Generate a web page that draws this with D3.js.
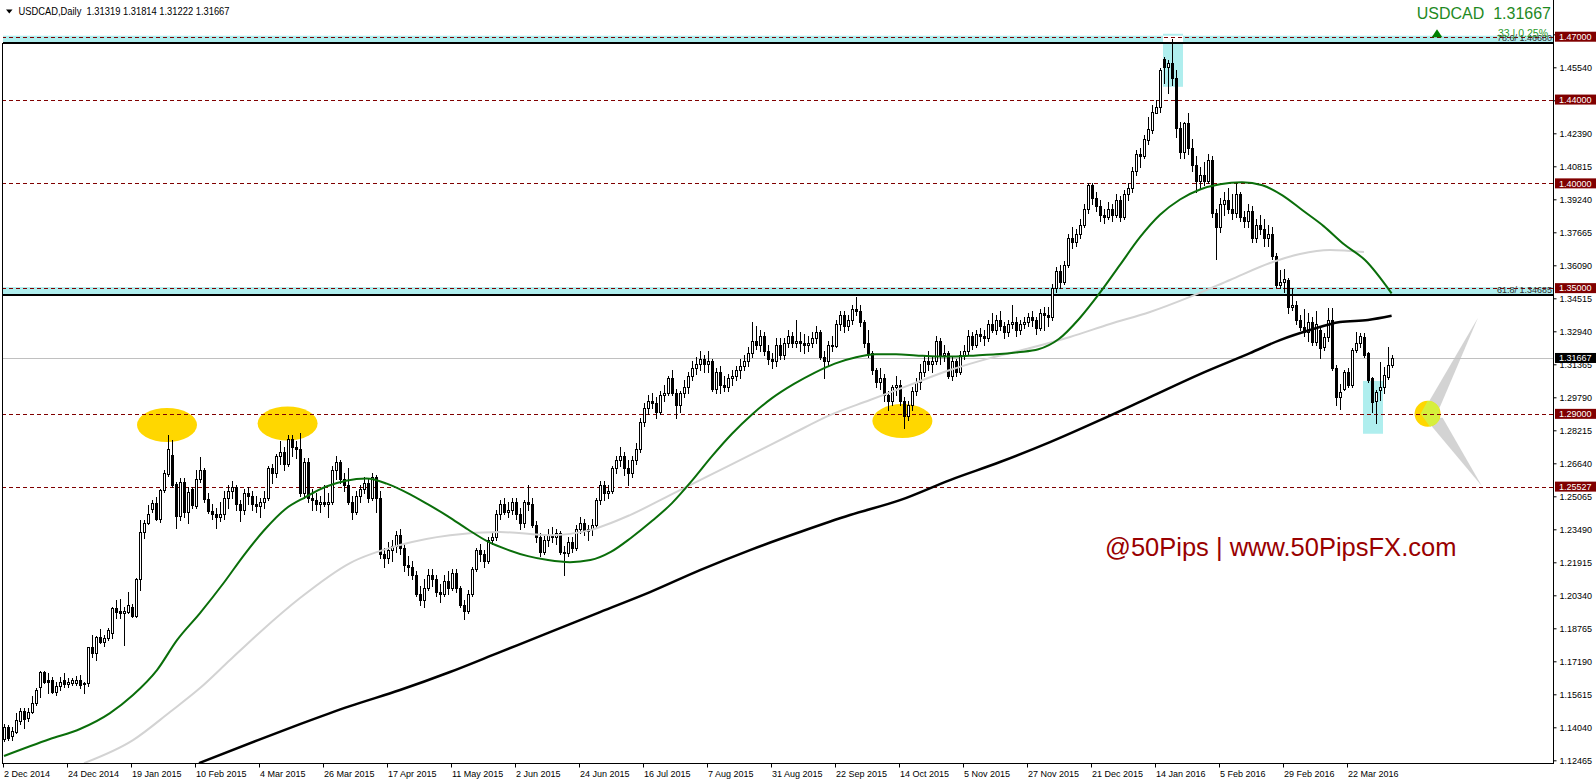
<!DOCTYPE html>
<html><head><meta charset="utf-8">
<script src="https://cdn.jsdelivr.net/npm/d3@7"></script>
<style>body{margin:0;background:#fff;}svg{display:block;}text{white-space:pre;}</style>
</head><body>
<svg id="c" width="1596" height="784"></svg>
<script>
// ---------------- DATA (daily USDCAD bars, 2 Dec 2014 .. 6 Apr 2016) ----------------
const opens = [
1.1350,1.1406,1.1364,1.1383,1.1435,1.1482,1.1446,1.1478,1.1518,1.1594,
1.1669,1.1629,1.1629,1.1574,1.1601,1.1629,1.1610,1.1617,1.1614,1.1632,
1.1617,1.1614,1.1785,1.1760,1.1833,1.1812,1.1828,1.1855,1.1972,1.1959,
1.1948,1.1956,1.1979,1.1935,1.2110,1.2337,1.2377,1.2444,1.2476,1.2396,
1.2536,1.2613,1.2704,1.2565,1.2412,1.2573,1.2433,1.2539,1.2460,1.2587,
1.2632,1.2495,1.2435,1.2420,1.2410,1.2420,1.2500,1.2530,1.2550,1.2470,
1.2440,1.2520,1.2510,1.2470,1.2460,1.2480,1.2500,1.2640,1.2620,1.2700,
1.2720,1.2660,1.2780,1.2740,1.2730,1.2520,1.2670,1.2500,1.2490,1.2470,
1.2480,1.2470,1.2480,1.2630,1.2670,1.2590,1.2560,1.2480,1.2430,1.2510,
1.2540,1.2570,1.2500,1.2600,1.2500,1.2230,1.2210,1.2250,1.2270,1.2320,
1.2260,1.2180,1.2170,1.2130,1.2040,1.2010,1.2070,1.2130,1.2110,1.2050,
1.2040,1.2100,1.2070,1.2140,1.2070,1.1990,1.1960,1.2040,1.2160,1.2250,
1.2230,1.2200,1.2300,1.2310,1.2420,1.2470,1.2430,1.2440,1.2480,1.2420,
1.2380,1.2480,1.2470,1.2370,1.2310,1.2240,1.2300,1.2320,1.2310,1.2330,
1.2240,1.2235,1.2290,1.2260,1.2350,1.2380,1.2340,1.2350,1.2370,1.2490,
1.2560,1.2520,1.2530,1.2640,1.2680,1.2700,1.2640,1.2620,1.2680,1.2730,
1.2860,1.2930,1.2960,1.2950,1.2910,1.2990,1.3000,1.3070,1.3000,1.2940,
1.3000,1.3030,1.3080,1.3120,1.3140,1.3160,1.3140,1.3150,1.3020,1.3100,
1.3040,1.3030,1.3070,1.3080,1.3110,1.3130,1.3150,1.3190,1.3250,1.3230,
1.3270,1.3200,1.3160,1.3150,1.3230,1.3180,1.3240,1.3270,1.3240,1.3250,
1.3240,1.3230,1.3240,1.3260,1.3290,1.3170,1.3150,1.3230,1.3225,1.3330,
1.3370,1.3320,1.3350,1.3400,1.3390,1.3340,1.3240,1.3190,1.3110,1.3050,
1.3070,1.2990,1.2960,1.3030,1.3040,1.2960,1.2890,1.2940,1.3010,1.3050,
1.3100,1.3150,1.3140,1.3150,1.3250,1.3180,1.3190,1.3080,1.3150,1.3100,
1.3180,1.3200,1.3270,1.3230,1.3280,1.3270,1.3260,1.3330,1.3300,1.3350,
1.3320,1.3290,1.3330,1.3340,1.3300,1.3330,1.3340,1.3360,1.3350,1.3310,
1.3380,1.3370,1.3360,1.3500,1.3580,1.3530,1.3610,1.3740,1.3720,1.3760,
1.3800,1.3880,1.3990,1.3930,1.3890,1.3850,1.3840,1.3880,1.3850,1.3920,
1.3840,1.3950,1.3980,1.4060,1.4140,1.4130,1.4207,1.4255,1.4338,1.4363,
1.4592,1.4554,1.4573,1.4501,1.4263,1.4150,1.4287,1.4170,1.4090,1.4010,
1.4040,1.4010,1.4110,1.3860,1.3790,1.3900,1.3920,1.3880,1.3860,1.3950,
1.3840,1.3820,1.3870,1.3740,1.3800,1.3780,1.3740,1.3760,1.3655,1.3515,
1.3530,1.3539,1.3411,1.3420,1.3350,1.3313,1.3290,1.3340,1.3244,1.3300,
1.3221,1.3268,1.3348,1.3117,1.2982,1.3017,1.3101,1.3038,1.3205,1.3240,
1.3268,1.3189,1.3070,1.2963,1.3014,1.3030,1.3078,1.31319];
const highs = [
1.1422,1.1414,1.1406,1.1470,1.1494,1.1494,1.1494,1.1553,1.1590,1.1674,
1.1674,1.1661,1.1645,1.1622,1.1645,1.1661,1.1637,1.1637,1.1648,1.1653,
1.1621,1.1788,1.1844,1.1839,1.1871,1.1844,1.1876,1.1976,1.2011,1.2014,
1.1979,1.2051,1.1992,1.2115,1.2393,1.2393,1.2465,1.2489,1.2505,1.2539,
1.2632,1.2799,1.2775,1.2576,1.2592,1.2592,1.2552,1.2552,1.2632,1.2695,
1.2640,1.2520,1.2470,1.2450,1.2480,1.2530,1.2560,1.2580,1.2560,1.2490,
1.2540,1.2550,1.2530,1.2510,1.2500,1.2530,1.2650,1.2660,1.2710,1.2770,
1.2740,1.2800,1.2800,1.2770,1.2810,1.2690,1.2690,1.2540,1.2520,1.2510,
1.2560,1.2520,1.2650,1.2700,1.2680,1.2620,1.2640,1.2510,1.2530,1.2560,
1.2600,1.2590,1.2620,1.2610,1.2530,1.2260,1.2290,1.2300,1.2340,1.2350,
1.2280,1.2220,1.2200,1.2150,1.2080,1.2110,1.2160,1.2160,1.2130,1.2090,
1.2130,1.2150,1.2160,1.2160,1.2080,1.2010,1.2060,1.2170,1.2260,1.2280,
1.2250,1.2310,1.2330,1.2440,1.2490,1.2500,1.2480,1.2500,1.2500,1.2450,
1.2490,1.2560,1.2500,1.2390,1.2330,1.2320,1.2350,1.2360,1.2350,1.2340,
1.2270,1.2310,1.2310,1.2370,1.2410,1.2400,1.2370,1.2400,1.2500,1.2580,
1.2580,1.2560,1.2650,1.2700,1.2740,1.2720,1.2680,1.2700,1.2760,1.2880,
1.2950,1.2990,1.3000,1.2980,1.3010,1.3040,1.3080,1.3110,1.3020,1.3010,
1.3060,1.3100,1.3150,1.3170,1.3200,1.3180,1.3200,1.3160,1.3120,1.3130,
1.3080,1.3090,1.3110,1.3130,1.3160,1.3180,1.3220,1.3340,1.3320,1.3300,
1.3290,1.3230,1.3190,1.3260,1.3260,1.3260,1.3300,1.3290,1.3350,1.3290,
1.3280,1.3270,1.3290,1.3320,1.3300,1.3200,1.3250,1.3270,1.3350,1.3390,
1.3390,1.3370,1.3420,1.3457,1.3420,1.3350,1.3300,1.3200,1.3120,1.3120,
1.3090,1.3010,1.3040,1.3080,1.3060,1.2980,1.2960,1.3030,1.3070,1.3140,
1.3180,1.3200,1.3170,1.3270,1.3260,1.3230,1.3200,1.3170,1.3160,1.3200,
1.3230,1.3300,1.3290,1.3300,1.3310,1.3300,1.3350,1.3380,1.3370,1.3390,
1.3340,1.3350,1.3420,1.3360,1.3350,1.3360,1.3380,1.3390,1.3360,1.3400,
1.3410,1.3410,1.3520,1.3600,1.3610,1.3630,1.3760,1.3790,1.3780,1.3830,
1.3900,1.4000,1.4000,1.3960,1.3920,1.3880,1.3910,1.3900,1.3950,1.3940,
1.3970,1.4000,1.4080,1.4160,1.4170,1.4230,1.4318,1.4374,1.4398,1.4549,
1.4605,1.4589,1.4689,1.4541,1.4295,1.4295,1.4334,1.4210,1.4130,1.4080,
1.4100,1.4140,1.4130,1.3880,1.3930,1.3960,1.3980,1.3950,1.4000,1.3960,
1.3870,1.3900,1.3890,1.3830,1.3850,1.3830,1.3800,1.3790,1.3670,1.3587,
1.3590,1.3547,1.3499,1.3440,1.3370,1.3400,1.3380,1.3360,1.3390,1.3320,
1.3284,1.3403,1.3403,1.3133,1.3042,1.3109,1.3117,1.3213,1.3292,1.3284,
1.3284,1.3197,1.3078,1.3014,1.3149,1.3125,1.3221,1.31814];
const lows = [
1.1340,1.1343,1.1343,1.1375,1.1422,1.1399,1.1435,1.1470,1.1510,1.1550,
1.1614,1.1566,1.1566,1.1558,1.1582,1.1598,1.1598,1.1606,1.1606,1.1590,
1.1566,1.1601,1.1741,1.1725,1.1804,1.1792,1.1823,1.1828,1.1924,1.1924,
1.1796,1.1948,1.1929,1.1932,1.2059,1.2306,1.2374,1.2433,1.2393,1.2385,
1.2528,1.2603,1.2552,1.2353,1.2393,1.2409,1.2377,1.2449,1.2449,1.2575,
1.2480,1.2425,1.2400,1.2355,1.2390,1.2400,1.2450,1.2500,1.2440,1.2390,
1.2420,1.2470,1.2440,1.2430,1.2410,1.2450,1.2490,1.2570,1.2600,1.2660,
1.2630,1.2650,1.2700,1.2690,1.2510,1.2500,1.2480,1.2440,1.2440,1.2430,
1.2460,1.2410,1.2470,1.2590,1.2570,1.2530,1.2470,1.2400,1.2420,1.2480,
1.2520,1.2480,1.2490,1.2430,1.2210,1.2170,1.2190,1.2200,1.2240,1.2230,
1.2150,1.2130,1.2110,1.2030,1.1990,1.1980,1.2060,1.2080,1.2030,1.2000,
1.2030,1.2040,1.2060,1.2050,1.1980,1.1920,1.1950,1.2030,1.2150,1.2200,
1.2170,1.2190,1.2280,1.2300,1.2400,1.2420,1.2410,1.2420,1.2400,1.2350,
1.2360,1.2440,1.2360,1.2290,1.2220,1.2230,1.2270,1.2290,1.2280,1.2230,
1.2130,1.2220,1.2240,1.2250,1.2330,1.2320,1.2300,1.2320,1.2360,1.2470,
1.2490,1.2500,1.2520,1.2620,1.2650,1.2610,1.2560,1.2600,1.2660,1.2720,
1.2840,1.2900,1.2930,1.2880,1.2900,1.2960,1.2990,1.2990,1.2880,1.2910,
1.2980,1.3000,1.3060,1.3090,1.3110,1.3100,1.3100,1.3010,1.3000,1.3000,
1.3010,1.3010,1.3040,1.3060,1.3070,1.3110,1.3130,1.3170,1.3210,1.3200,
1.3180,1.3140,1.3120,1.3130,1.3160,1.3160,1.3220,1.3220,1.3220,1.3200,
1.3190,1.3200,1.3220,1.3240,1.3160,1.3070,1.3130,1.3200,1.3220,1.3300,
1.3290,1.3300,1.3330,1.3370,1.3320,1.3220,1.3170,1.3090,1.3030,1.3020,
1.2960,1.2920,1.2940,1.2990,1.2940,1.2832,1.2870,1.2920,1.2990,1.3020,
1.3080,1.3110,1.3100,1.3140,1.3140,1.3150,1.3070,1.3060,1.3080,1.3090,
1.3160,1.3180,1.3210,1.3220,1.3250,1.3230,1.3250,1.3290,1.3280,1.3300,
1.3260,1.3270,1.3310,1.3270,1.3280,1.3310,1.3320,1.3320,1.3280,1.3300,
1.3300,1.3320,1.3350,1.3480,1.3500,1.3520,1.3600,1.3690,1.3700,1.3740,
1.3790,1.3860,1.3900,1.3870,1.3820,1.3810,1.3830,1.3820,1.3840,1.3820,
1.3830,1.3920,1.3960,1.4040,1.4080,1.4120,1.4190,1.4240,1.4334,1.4342,
1.4478,1.4430,1.4470,1.4223,1.4120,1.4120,1.4140,1.4060,1.3960,1.3980,
1.3990,1.4000,1.3840,1.3640,1.3770,1.3850,1.3860,1.3830,1.3840,1.3820,
1.3790,1.3790,1.3720,1.3720,1.3760,1.3700,1.3700,1.3640,1.3505,1.3500,
1.3483,1.3380,1.3395,1.3330,1.3300,1.3270,1.3250,1.3230,1.3230,1.3165,
1.3205,1.3250,1.3110,1.2942,1.2921,1.3014,1.3030,1.3030,1.3197,1.3221,
1.3173,1.3054,1.2910,1.2855,1.2966,1.3001,1.3065,1.31222];
const closes = [
1.1406,1.1351,1.1388,1.1439,1.1482,1.1442,1.1478,1.1521,1.1582,1.1669,
1.1622,1.1621,1.1574,1.1601,1.1621,1.1610,1.1621,1.1629,1.1632,1.1606,
1.1609,1.1785,1.1760,1.1836,1.1812,1.1828,1.1868,1.1972,1.1956,1.1948,
1.1959,1.1987,1.1935,1.2112,1.2337,1.2377,1.2420,1.2473,1.2396,1.2536,
1.2616,1.2732,1.2560,1.2412,1.2576,1.2433,1.2528,1.2465,1.2587,1.2632,
1.2495,1.2435,1.2420,1.2410,1.2420,1.2500,1.2530,1.2550,1.2470,1.2440,
1.2520,1.2510,1.2470,1.2460,1.2480,1.2500,1.2640,1.2620,1.2700,1.2720,
1.2660,1.2780,1.2740,1.2730,1.2520,1.2670,1.2500,1.2490,1.2470,1.2480,
1.2470,1.2480,1.2630,1.2670,1.2590,1.2560,1.2480,1.2430,1.2510,1.2540,
1.2570,1.2500,1.2600,1.2500,1.2230,1.2210,1.2250,1.2270,1.2320,1.2260,
1.2180,1.2170,1.2130,1.2040,1.2010,1.2070,1.2130,1.2110,1.2050,1.2040,
1.2100,1.2070,1.2140,1.2070,1.1990,1.1960,1.2040,1.2160,1.2250,1.2230,
1.2200,1.2300,1.2310,1.2420,1.2470,1.2430,1.2440,1.2480,1.2420,1.2380,
1.2480,1.2470,1.2370,1.2310,1.2240,1.2300,1.2320,1.2310,1.2330,1.2240,
1.2235,1.2290,1.2260,1.2350,1.2380,1.2340,1.2350,1.2370,1.2490,1.2560,
1.2520,1.2530,1.2640,1.2680,1.2700,1.2640,1.2620,1.2680,1.2730,1.2860,
1.2930,1.2960,1.2950,1.2910,1.2990,1.3000,1.3070,1.3000,1.2940,1.3000,
1.3030,1.3080,1.3120,1.3140,1.3160,1.3140,1.3150,1.3020,1.3100,1.3040,
1.3030,1.3070,1.3080,1.3110,1.3130,1.3150,1.3190,1.3250,1.3230,1.3270,
1.3200,1.3160,1.3150,1.3230,1.3180,1.3240,1.3270,1.3240,1.3250,1.3240,
1.3230,1.3240,1.3260,1.3290,1.3170,1.3150,1.3230,1.3225,1.3330,1.3370,
1.3320,1.3350,1.3400,1.3390,1.3340,1.3240,1.3190,1.3110,1.3050,1.3070,
1.2990,1.2960,1.3030,1.3040,1.2960,1.2890,1.2940,1.3010,1.3050,1.3100,
1.3150,1.3140,1.3150,1.3250,1.3180,1.3190,1.3080,1.3150,1.3100,1.3180,
1.3200,1.3270,1.3230,1.3280,1.3270,1.3260,1.3330,1.3300,1.3350,1.3320,
1.3290,1.3330,1.3340,1.3300,1.3330,1.3340,1.3360,1.3350,1.3310,1.3380,
1.3370,1.3360,1.3500,1.3580,1.3530,1.3610,1.3740,1.3720,1.3760,1.3800,
1.3880,1.3990,1.3930,1.3890,1.3850,1.3840,1.3880,1.3850,1.3920,1.3840,
1.3950,1.3980,1.4060,1.4140,1.4130,1.4210,1.4258,1.4342,1.4363,1.4541,
1.4554,1.4573,1.4501,1.4263,1.4150,1.4287,1.4170,1.4090,1.4010,1.4040,
1.4010,1.4110,1.3860,1.3790,1.3900,1.3920,1.3880,1.3860,1.3950,1.3840,
1.3820,1.3870,1.3740,1.3800,1.3780,1.3740,1.3760,1.3655,1.3515,1.3530,
1.3542,1.3411,1.3420,1.3350,1.3313,1.3290,1.3340,1.3244,1.3330,1.3213,
1.3268,1.3348,1.3117,1.2982,1.3006,1.3101,1.3038,1.3205,1.3240,1.3271,
1.3181,1.3062,1.2958,1.3006,1.3030,1.3086,1.3133,1.31667];

const dateLabels = ["2 Dec 2014","24 Dec 2014","19 Jan 2015","10 Feb 2015","4 Mar 2015","26 Mar 2015","17 Apr 2015","11 May 2015","2 Jun 2015","24 Jun 2015","16 Jul 2015","7 Aug 2015","31 Aug 2015","22 Sep 2015","14 Oct 2015","5 Nov 2015","27 Nov 2015","21 Dec 2015","14 Jan 2016","5 Feb 2016","29 Feb 2016","22 Mar 2016"];
const dateTickBars = [0,16,32,48,64,80,96,112,128,144,160,176,192,208,224,240,256,272,288,304,320,336];
const priceTicks = [1.12465,1.14040,1.15615,1.17190,1.18765,1.20340,1.21915,1.23490,1.25065,1.26640,1.28215,1.29790,1.31365,1.32940,1.34515,1.36090,1.37665,1.39240,1.40815,1.42390,1.43965,1.45540,1.47115];

const levelPrices = [1.47000,1.44000,1.40000,1.35000,1.29000,1.25527];
const fibPrices = [1.46680,1.34685];
const fibTexts = ["78.6/ 1.46680","61.8/ 1.34685"];
const bandTops = [1.47000,1.35000];
const currentPrice = 1.31667;

const ma50Bars = [0,11.5,19,26.5,32.25,38.25,43.25,49,55,60,65.2,70.3,75.4,80.4,85.5,90.6,95.7,100.8,105.9,111,116,121,126,131,136,141.5,146.6,151.7,156.8,161.9,167,172,177,182,187,192,197.5,202.6,207.7,212.8,217.9,223,228,233,238,243,248,253.5,258.6,263.7,268.8,273.9,279,284,289,294,299,304,309.5,314.6,319.7,324.8,329.9,335,340.25,346.9];
const ma50Vals = [1.1267,1.1348,1.1396,1.1472,1.1558,1.1677,1.1820,1.1949,1.2095,1.2226,1.2348,1.2445,1.2503,1.2552,1.2581,1.2591,1.2567,1.2523,1.2469,1.2411,1.2348,1.2290,1.2251,1.2221,1.2202,1.2192,1.2202,1.2241,1.2309,1.2387,1.2474,1.2581,1.2698,1.2805,1.2897,1.2975,1.3043,1.3096,1.3140,1.3169,1.3184,1.3184,1.3179,1.3174,1.3174,1.3179,1.3184,1.3194,1.3208,1.3257,1.3354,1.3476,1.3611,1.3743,1.3850,1.3923,1.3971,1.3996,1.4005,1.3991,1.3942,1.3869,1.3796,1.3709,1.3634,1.3475];
const ma100Bars = [20,32.25,41.5,49,56.5,64,74,86.5,99,111.5,124,136.5,146.5,156.5,166.5,176.5,186.5,196.5,206.5,216.5,226.5,236.5,246.5,256.5,266.5,276.5,286.5,296.5,306.5,316.5,324,331.5,340];
const ma100Vals = [1.1233,1.1343,1.1477,1.1591,1.1725,1.1858,1.2021,1.2188,1.2274,1.2321,1.2336,1.2321,1.2345,1.2417,1.2512,1.2608,1.2703,1.2799,1.2894,1.2966,1.3038,1.3109,1.3166,1.3214,1.3267,1.3329,1.3386,1.3458,1.3539,1.3620,1.3663,1.3682,1.3672];
const ma200Bars = [48.75,63.5,74,86.5,99,111.5,124,136.5,149,161.5,174,186.5,199,211.5,224,236.5,249,261.5,274,286.5,299,311.5,319,326.5,334,341,346.9];
const ma200Vals = [1.1233,1.1343,1.1419,1.1505,1.1582,1.1668,1.1763,1.1858,1.1954,1.2049,1.2154,1.2250,1.2336,1.2417,1.2488,1.2584,1.2670,1.2765,1.2870,1.2980,1.3090,1.3190,1.3252,1.3300,1.3338,1.3348,1.3368];

const ellipseBars = [40.75,70.9,224.6];
const ellipsePrices = [1.2847,1.2854,1.2866];
const boxBars = [[289.75,294.75],[339.75,344.75]];
const boxPrices = [[1.4714,1.4461],[1.3057,1.2805]];
const markerBar = 355.9, markerPrice = 1.2900;
const wedgeTopBar = 368.5, wedgeTopPrice = 1.3359;
const wedgeBottomBar = 369.5, wedgeBottomPrice = 1.2555;

// ---------------- CHART ----------------
const W = 1596, H = 784;
const L = 2, R = 1553, B = 763;
const x = d3.scaleLinear().domain([0, 347]).range([4, 1392]);
const y = d3.scaleLinear().domain([1.12465, 1.45540]).range([760.3, 67.3]);
const FONT = "'Liberation Sans', Arial, sans-serif";
const svg = d3.select('#c');
svg.append('rect').attr('width', W).attr('height', H).attr('fill', '#fff');
const defs = svg.append('defs');
defs.append('clipPath').attr('id', 'pc').append('rect')
  .attr('x', L + 1).attr('y', 0).attr('width', R - L - 1).attr('height', B);
const g = svg.append('g').attr('clip-path', 'url(#pc)');
const CYAN = '#afeeee', MAROON = '#800000';

// bands
bandTops.forEach((t, i) => {
  const y0 = y(t) - 1, y1 = y(fibPrices[i]);
  g.append('rect').attr('x', L).attr('width', R - L).attr('y', y0).attr('height', y1 - y0).attr('fill', CYAN);
});
// vertical boxes (XOR overlap with bands shows white)
boxBars.forEach((bb, i) => {
  const x0 = x(bb[0]), x1 = x(bb[1]);
  const y0 = y(boxPrices[i][0]), y1 = y(boxPrices[i][1]);
  g.append('rect').attr('x', x0).attr('width', x1 - x0).attr('y', y0).attr('height', y1 - y0).attr('fill', CYAN);
  bandTops.forEach((t, j) => {
    const b0 = y(t) - 1, b1 = y(fibPrices[j]);
    const o0 = Math.max(b0, y0), o1 = Math.min(b1, y1);
    if (o1 > o0) g.append('rect').attr('x', x0).attr('width', x1 - x0).attr('y', o0).attr('height', o1 - o0).attr('fill', '#fff');
  });
});
// ellipses
ellipseBars.forEach((b, i) => {
  g.append('ellipse').attr('cx', x(b)).attr('cy', y(ellipsePrices[i])).attr('rx', 30).attr('ry', 17).attr('fill', '#ffd700');
});
// wedges + marker
const mx = x(markerBar), my = y(markerPrice);
const tx = x(wedgeTopBar), ty = y(wedgeTopPrice), bx = x(wedgeBottomBar), by = y(wedgeBottomPrice);
g.append('path').attr('d', `M${tx},${ty}L${mx-4},${my-3}L${mx+12},${my-6}Z`).attr('fill', '#d3d3d3');
g.append('path').attr('d', `M${bx},${by}L${mx-3},${my+4}L${mx+15},${my+4}Z`).attr('fill', '#d3d3d3');
defs.append('clipPath').attr('id', 'mc').append('circle').attr('cx', mx).attr('cy', my).attr('r', 13);
g.append('circle').attr('cx', mx).attr('cy', my).attr('r', 13).attr('fill', '#ffd700');
g.append('path').attr('clip-path', 'url(#mc)')
  .attr('d', `M${mx-7},${my}L${tx+6},${ty-20}L${mx+12},${my-9}L${mx+12},${my+9}L${bx+6},${by+20}Z`).attr('fill', '#d6ef3c');

// current price line
const cy0 = Math.round(y(currentPrice)) + 0.5;
g.append('line').attr('x1', L).attr('x2', R).attr('y1', cy0).attr('y2', cy0).attr('stroke', '#c0c0c0').attr('stroke-width', 1);
// level dashed lines
levelPrices.forEach(p => {
  const yy = Math.round(y(p)) + 0.5;
  g.append('line').attr('x1', L).attr('x2', R).attr('y1', yy).attr('y2', yy)
    .attr('stroke', MAROON).attr('stroke-width', 1).attr('stroke-dasharray', '4,3');
});
// fib lines
fibPrices.forEach((p, i) => {
  const yy = Math.round(y(p));
  g.append('line').attr('x1', L).attr('x2', R).attr('y1', yy).attr('y2', yy).attr('stroke', '#000').attr('stroke-width', 2);
  g.append('text').attr('x', R - 1).attr('y', yy - 2).attr('text-anchor', 'end')
    .attr('font-family', FONT).attr('font-size', 9).attr('fill', '#333').text(fibTexts[i]);
});

// candles
const n = Math.min(opens.length, highs.length, lows.length, closes.length);
const cg = g.append('g');
for (let i = 0; i < n; i++) {
  const cx = Math.round(x(i));
  const o = opens[i], c = closes[i];
  cg.append('line').attr('x1', cx + 0.5).attr('x2', cx + 0.5)
    .attr('y1', Math.round(y(highs[i]))).attr('y2', Math.round(y(lows[i])) + 1)
    .attr('stroke', '#000').attr('stroke-width', 1);
  const top = Math.round(y(Math.max(o, c))), bot = Math.round(y(Math.min(o, c)));
  cg.append('rect').attr('x', cx - 0.5).attr('width', 2)
    .attr('y', top + 0.5).attr('height', Math.max(0, bot - top))
    .attr('fill', c >= o ? '#fff' : '#000').attr('stroke', '#000').attr('stroke-width', 1);
}

// moving averages
const line = d3.line().x(d => x(d[0])).y(d => y(d[1])).curve(d3.curveMonotoneX);
g.append('path').datum(d3.zip(ma100Bars, ma100Vals)).attr('d', line).attr('fill', 'none').attr('stroke', '#d3d3d3').attr('stroke-width', 2);
g.append('path').datum(d3.zip(ma200Bars, ma200Vals)).attr('d', line).attr('fill', 'none').attr('stroke', '#000').attr('stroke-width', 2.5);
g.append('path').datum(d3.zip(ma50Bars, ma50Vals)).attr('d', line).attr('fill', 'none').attr('stroke', '#0a6e0a').attr('stroke-width', 2);

// watermark
svg.append('text').attr('x', 1105).attr('y', 556).attr('font-family', FONT).attr('font-size', 25.5)
  .attr('fill', '#990000').text('@50Pips | www.50PipsFX.com');

// frame
svg.append('line').attr('x1', R + 0.5).attr('x2', R + 0.5).attr('y1', 0).attr('y2', B + 1).attr('stroke', '#000');
svg.append('line').attr('x1', L).attr('x2', R + 1).attr('y1', B + 0.5).attr('y2', B + 0.5).attr('stroke', '#000');
svg.append('line').attr('x1', L + 0.5).attr('x2', L + 0.5).attr('y1', 43).attr('y2', B + 1).attr('stroke', '#000');

// right axis
const ya = svg.append('g').attr('transform', `translate(${R + 0.5},0)`)
  .call(d3.axisRight(y).tickValues(priceTicks).tickFormat(d3.format('.5f')).tickSize(3).tickPadding(3));
ya.select('.domain').remove();
ya.selectAll('text').attr('font-family', FONT).attr('font-size', 9).attr('fill', '#000');
function priceBox(p, color) {
  const yy = y(p);
  svg.append('rect').attr('x', 1555).attr('y', yy - 5).attr('width', 41).attr('height', 10).attr('fill', color);
  svg.append('text').attr('x', 1559).attr('y', yy + 3.3).attr('font-family', FONT).attr('font-size', 9)
    .attr('fill', '#fff').text(d3.format('.5f')(p));
}
levelPrices.forEach(p => priceBox(p, MAROON));
priceBox(currentPrice, '#000');

// bottom axis
const xa = svg.append('g');
dateTickBars.forEach((b, i) => {
  const xx = Math.round(x(b)) - 0.5;
  xa.append('line').attr('x1', xx).attr('x2', xx).attr('y1', B).attr('y2', B + 4.5).attr('stroke', '#000');
  xa.append('text').attr('x', xx + 0.5).attr('y', 777).attr('font-family', FONT).attr('font-size', 9).attr('fill', '#000').text(dateLabels[i]);
});

// header
svg.append('path').attr('d', 'M6,9.5L12.5,9.5L9.25,13.5Z').attr('fill', '#000');
svg.append('text').attr('x', 18.5).attr('y', 15).attr('font-family', FONT).attr('font-size', 10.5)
  .attr('textLength', 211).attr('lengthAdjust', 'spacingAndGlyphs').attr('fill', '#000')
  .text('USDCAD,Daily  1.31319 1.31814 1.31222 1.31667');
svg.append('text').attr('x', 1551).attr('y', 18.5).attr('text-anchor', 'end').attr('font-family', FONT)
  .attr('font-size', 16).attr('fill', '#1f8a1f').text('USDCAD  1.31667');
svg.append('path').attr('d', 'M1437,29.3L1442.3,37.3L1431.7,37.3Z').attr('fill', '#008000');
svg.append('text').attr('x', 1548).attr('y', 36.7).attr('text-anchor', 'end').attr('font-family', FONT)
  .attr('font-size', 10.5).attr('fill', '#2a9a2a').text('33 | 0.25%');
</script>
</body></html>
